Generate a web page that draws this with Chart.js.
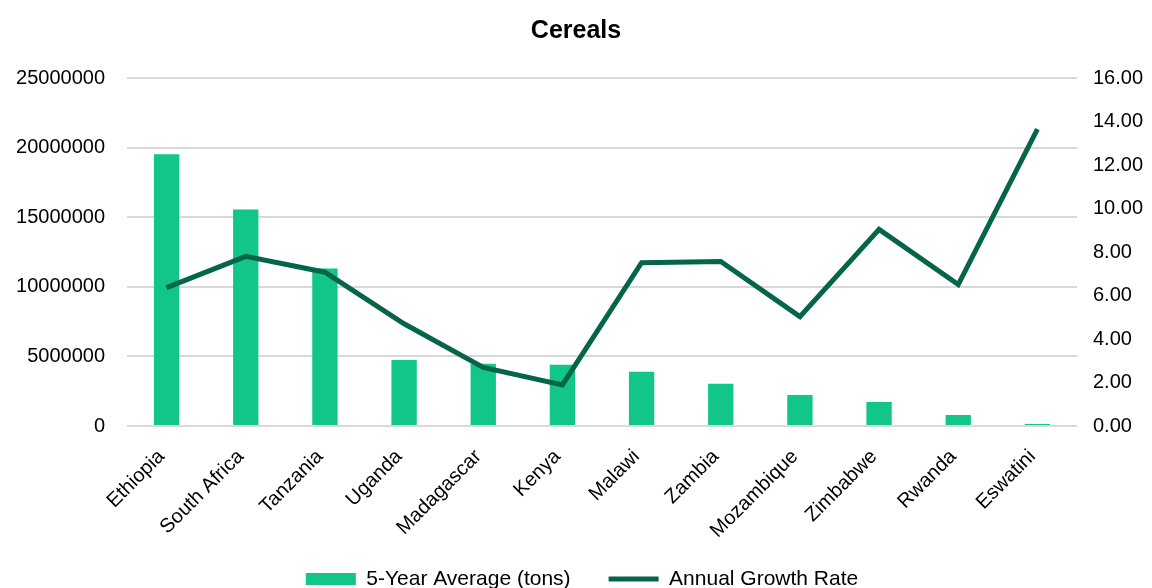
<!DOCTYPE html>
<html>
<head>
<meta charset="utf-8">
<script src="https://cdn.jsdelivr.net/npm/chart.js@4/dist/chart.umd.min.js"></script>
<style>
html,body{margin:0;padding:0;background:#fff;}
#wrap{width:1152px;height:588px;position:relative;}
</style>
</head>
<body>
<div id="wrap"><canvas id="c" width="1152" height="588"></canvas></div>
<script>
const categories = ["Ethiopia","South Africa","Tanzania","Uganda","Madagascar","Kenya","Malawi","Zambia","Mozambique","Zimbabwe","Rwanda","Eswatini"];
const fiveYearAverage = [19520000,15560000,11310000,4750000,4470000,4400000,3890000,3030000,2230000,1730000,790000,150000];
const annualGrowthRate = [6.36,7.80,7.07,4.70,2.69,1.89,7.51,7.56,5.03,9.04,6.50,13.65];
const leftTicks = [0,5000000,10000000,15000000,20000000,25000000];
const rightTicks = [0,2,4,6,8,10,12,14,16];

const FONT = "'Liberation Sans', Arial, sans-serif";
Chart.defaults.font.family = FONT;
Chart.defaults.color = '#000';

// move the legend to its place after layout (keeps the x labels unclipped)
const legendShift = {
  id: 'legendShift',
  afterLayout(chart) {
    const lg = chart.legend;
    if (!lg) return;
    const pad = lg.options.labels.padding;
    const fs = lg.options.labels.font.size;
    const wantCenter = 579;
    const cur = lg.top + pad + fs / 2;
    const dy = wantCenter - cur;
    lg.top += dy;
    lg.bottom += dy;
    const dx = 6;
    lg.left += dx;
    lg.right += dx;
  }
};

new Chart(document.getElementById('c'), {
  type: 'bar',
  data: {
    labels: categories,
    datasets: [
      {
        type: 'bar',
        label: '5-Year Average (tons)',
        data: fiveYearAverage,
        backgroundColor: '#12c589',
        borderWidth: 0,
        yAxisID: 'y',
        barPercentage: 0.32,
        categoryPercentage: 1.0,
        pointStyle: 'rect',
        order: 1
      },
      {
        type: 'line',
        label: 'Annual Growth Rate',
        data: annualGrowthRate,
        borderColor: '#05654a',
        backgroundColor: '#05654a',
        borderWidth: 5,
        pointRadius: 0,
        tension: 0,
        yAxisID: 'y1',
        pointStyle: 'line',
        order: 0
      }
    ]
  },
  plugins: [legendShift],
  options: {
    responsive: false,
    animation: false,
    layout: { padding: { left: 0, right: 0, top: 0, bottom: -35 } },
    plugins: {
      title: {
        display: true,
        text: 'Cereals',
        font: { size: 25, weight: 'bold', family: FONT },
        color: '#000',
        padding: { top: 16, bottom: 32 }
      },
      legend: {
        position: 'bottom',
        labels: {
          usePointStyle: true,
          pointStyleWidth: 50,
          boxHeight: 12,
          padding: 38,
          font: { size: 21, family: FONT },
          color: '#000',
          sort: (a, b) => a.datasetIndex - b.datasetIndex
        }
      },
      tooltip: { enabled: false }
    },
    scales: {
      x: {
        grid: { display: false },
        border: { display: false },
        ticks: {
          minRotation: 45,
          maxRotation: 45,
          autoSkip: false,
          font: { size: 20, family: FONT },
          color: '#000',
          padding: 11,
          labelOffset: -5
        },
        afterFit: (s) => { s.height = 128; }
      },
      y: {
        position: 'left',
        min: 0,
        max: 25000000,
        afterBuildTicks: (s) => { s.ticks = leftTicks.map(v => ({ value: v })); },
        ticks: {
          font: { size: 20, family: FONT },
          color: '#000',
          padding: 22,
          callback: (v) => String(v)
        },
        grid: { color: '#d9d9d9', lineWidth: 2, drawTicks: false },
        border: { display: false },
        afterFit: (s) => { s.width = 127; }
      },
      y1: {
        position: 'right',
        min: 0,
        max: 16,
        afterBuildTicks: (s) => { s.ticks = rightTicks.map(v => ({ value: v })); },
        ticks: {
          font: { size: 20, family: FONT },
          color: '#000',
          padding: 16,
          callback: (v) => Number(v).toFixed(2)
        },
        grid: { display: false, drawTicks: false },
        border: { display: false },
        afterFit: (s) => { s.width = 75; }
      }
    }
  }
});
</script>
</body>
</html>
